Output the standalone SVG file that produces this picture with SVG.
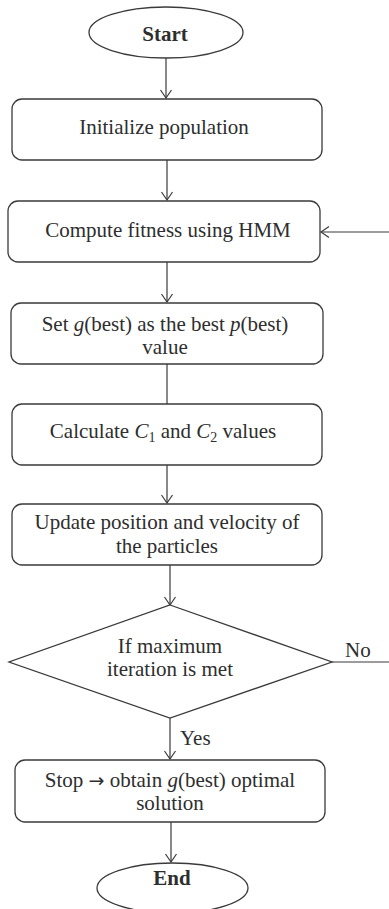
<svg xmlns="http://www.w3.org/2000/svg" width="389" height="909" viewBox="0 0 389 909">
<style>
.shape{fill:#fff;stroke:#3a3a3a;stroke-width:1.3}
.edge{fill:none;stroke:#3a3a3a;stroke-width:1.2}
text{font-family:"Liberation Serif","Times New Roman",serif;font-size:21px;fill:#2e2e2e;text-anchor:middle}
.b{font-weight:bold}
.i{font-style:italic}
.sub{font-size:14px}
.lbl{text-anchor:start}
.ar{font-family:"DejaVu Sans",sans-serif;font-size:19px}
</style>
<defs>
<marker id="arr" markerUnits="userSpaceOnUse" markerWidth="12" markerHeight="14" refX="9" refY="6" orient="auto" overflow="visible">
<path d="M1,0.5 L9,6 L1,11.5" fill="none" stroke="#3a3a3a" stroke-width="1.2"/>
</marker>
</defs>
<rect width="389" height="909" fill="#fff"/>
<g id="connectors">
<line class="edge" x1="166" y1="58" x2="166" y2="98" marker-end="url(#arr)"/>
<line class="edge" x1="167" y1="160" x2="167" y2="200" marker-end="url(#arr)"/>
<line class="edge" x1="167" y1="262" x2="167" y2="302" marker-end="url(#arr)"/>
<line class="edge" x1="167" y1="364" x2="167" y2="404"/>
<line class="edge" x1="167" y1="465" x2="167" y2="503" marker-end="url(#arr)"/>
<line class="edge" x1="170" y1="565" x2="170" y2="605" marker-end="url(#arr)"/>
<line class="edge" x1="170" y1="718" x2="170" y2="759" marker-end="url(#arr)"/>
<line class="edge" x1="171" y1="822" x2="171" y2="862" marker-end="url(#arr)"/>
<line class="edge" x1="389" y1="232" x2="321" y2="232" marker-end="url(#arr)"/>
<line class="edge" x1="332" y1="662" x2="389" y2="662"/>
<text class="lbl" x="345" y="657">No</text>
<text class="lbl" x="180" y="745">Yes</text>
</g>
<g id="start">
<ellipse class="shape" cx="166" cy="32.5" rx="77" ry="25.5"/>
<text class="b" x="165" y="41">Start</text>
</g>
<g id="init">
<rect class="shape" x="12" y="99" width="310" height="61" rx="10"/>
<text x="164" y="134">Initialize population</text>
</g>
<g id="fitness">
<rect class="shape" x="8" y="201" width="312" height="61" rx="10"/>
<text x="168" y="237">Compute fitness using HMM</text>
</g>
<g id="setg">
<rect class="shape" x="11" y="303" width="312" height="61" rx="10"/>
<text x="165" y="331">Set <tspan class="i">g</tspan>(best) as the best <tspan class="i">p</tspan>(best)</text>
<text x="165" y="354">value</text>
</g>
<g id="calc">
<rect class="shape" x="12" y="404" width="310" height="61" rx="10"/>
<text x="163" y="438">Calculate <tspan class="i">C</tspan><tspan class="sub" dy="4">1</tspan><tspan dy="-4"> and </tspan><tspan class="i">C</tspan><tspan class="sub" dy="4">2</tspan><tspan dy="-4"> values</tspan></text>
</g>
<g id="update">
<rect class="shape" x="12" y="504" width="310" height="61" rx="10"/>
<text x="167" y="529">Update position and velocity of</text>
<text x="167" y="553">the particles</text>
</g>
<g id="decision">
<polygon class="shape" points="170,605 332,662 170,718 9,662"/>
<text x="170" y="653">If maximum</text>
<text x="170" y="676">iteration is met</text>
</g>
<g id="stop">
<rect class="shape" x="15" y="760" width="310" height="62" rx="10"/>
<text x="170" y="787">Stop <tspan class="ar">→</tspan> obtain <tspan class="i">g</tspan>(best) optimal</text>
<text x="170" y="810">solution</text>
</g>
<g id="end">
<ellipse class="shape" cx="172.5" cy="888" rx="75.5" ry="25"/>
<text class="b" x="172" y="885">End</text>
</g>
</svg>
